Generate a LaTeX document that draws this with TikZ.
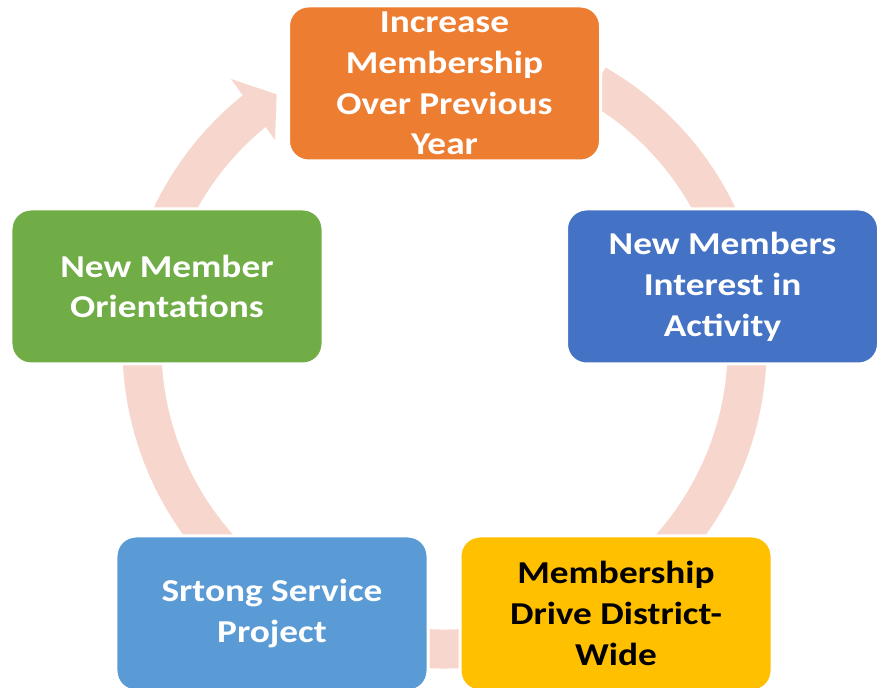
\documentclass[tikz,border=0pt]{standalone}
\usepackage{fontspec}
\setmainfont{Carlito}[FakeStretch=1.17]
\definecolor{ringc}{HTML}{F7D7CD}
\definecolor{orng}{HTML}{ED7D31}
\definecolor{blu}{HTML}{4472C4}
\definecolor{ylw}{HTML}{FFC000}
\definecolor{lblu}{HTML}{5B9BD5}
\definecolor{grn}{HTML}{70AD47}
\begin{document}
\begin{tikzpicture}[x=1bp,y=1bp,
  ring/.style={draw=ringc,line width=39bp,line cap=butt},
  box/.style={rectangle,rounded corners=20bp,draw=white,line width=3bp,
    minimum width=312bp,minimum height=155bp,inner sep=0pt,outer sep=0pt,
    align=center,text=white,font=\bfseries\fontsize{32}{41}\selectfont}]
\useasboundingbox (0,0) rectangle (878,688);
\clip (0,0) rectangle (878,688);
\coordinate (C) at (444.5,341.6);
% ring with arrow
\draw[ring] ([shift={(60:302.6)}]C) arc[start angle=60,end angle=-232,radius=302.6];
\coordinate (hb) at (231,609);
\coordinate (ht1) at (276.7,593.7);
\coordinate (ht2) at (275,548);
\fill[ringc] (hb) -- (ht1) -- (ht2) -- cycle;
% boxes
\node[box,fill=orng] (top) at (444.5,604.5) {Increase\\Membership\\Over Previous\\Year};
\node[box,fill=blu] (right) at (722.5,401.5) {New Members\\Interest in\\Activity};
\node[box,fill=ylw,text=black] (br) at (616,74.5) {Membership\\Drive District-\\Wide};
\node[box,fill=lblu] (bl) at (272,74.5) {Srtong Service\\Project};
\node[box,fill=grn] (left) at (167,401.5) {New Member\\Orientations};
\end{tikzpicture}
\end{document}
